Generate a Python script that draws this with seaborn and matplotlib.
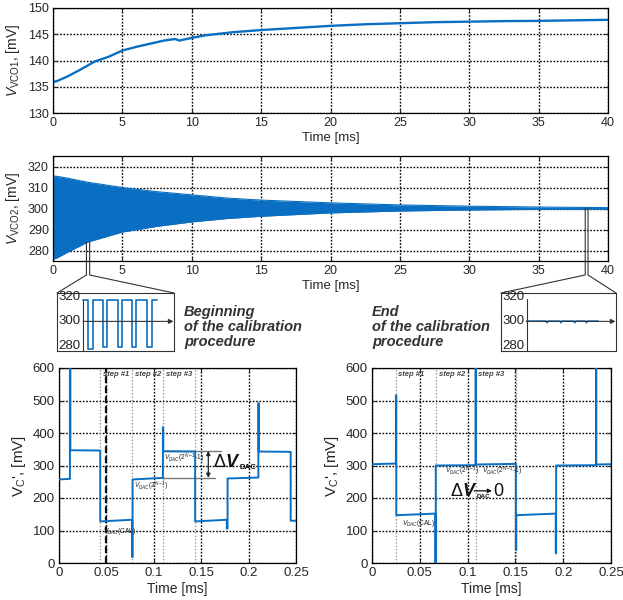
import numpy as np
import pandas as pd
import matplotlib
matplotlib.use("Agg")
import matplotlib.pyplot as plt
import seaborn as sns

# ------------------------------------------------------------------ data
vco1_t = [0, 0.3, 1, 2, 3, 4, 5, 6, 7, 8, 8.8, 9.1, 10, 11, 12, 13, 15, 17.5,
          20, 22.5, 25, 27.5, 30, 32.5, 35, 37.5, 40]
vco1_v = [135.9, 136.1, 136.9, 138.3, 139.8, 140.7, 141.9, 142.6, 143.2, 143.8,
          144.1, 143.8, 144.3, 144.8, 145.1, 145.4, 145.8, 146.2, 146.6, 146.9,
          147.1, 147.3, 147.4, 147.5, 147.55, 147.65, 147.75]

vco2_t = [0, 0.3, 1, 2.5, 5, 7.5, 10, 12.5, 15, 20, 25, 30, 35, 40]
vco2_upper = [315.5, 315.3, 314.5, 312.5, 310.0, 308.0, 306.5, 305.0, 304.0,
              302.7, 301.7, 301.1, 300.7, 300.4]
vco2_lower = [275.8, 276.5, 279.0, 284.0, 288.8, 291.5, 293.6, 295.2, 296.3,
              297.9, 298.8, 299.3, 299.6, 299.7]

# zoomed windows of the VCO2 trace (ms)
zoom_begin_t = [2.41, 2.64]
zoom_end_t = [38.36, 38.56]

beg_t = [0, 0.45, 1.0, 2.0, 2.4, 3.5, 3.9, 4.9, 5.3, 6.4, 6.9, 7.4]
beg_v = [317, 277.5, 317, 279.5, 317, 279.5, 317, 279.5, 317, 279.5, 317, 317]
end_t = [0, 2.0, 2.1, 2.2, 3.4, 3.5, 3.6, 4.8, 4.9, 5.0, 6.0, 6.1, 6.2, 7.3]
end_v = [300.2, 300.2, 298.9, 300.2, 300.2, 298.9, 300.2, 300.2, 298.9, 300.2,
         300.2, 298.9, 300.2, 300.2]
inset_ticks = [320, 300, 280]

begin_t = [0, 0.0115, 0.0115, 0.0120, 0.0120, 0.0435, 0.0435, 0.0772, 0.0772,
           0.0776, 0.0776, 0.1096, 0.1096, 0.1100, 0.1100, 0.1436, 0.1436,
           0.1770, 0.1770, 0.1778, 0.1778, 0.2103, 0.2103, 0.2107, 0.2107,
           0.2444, 0.2444, 0.25]
begin_v = [257, 259, 620, 620, 347, 346, 128, 133, 18, 18, 257, 262, 418, 418,
           344, 343, 128, 133, 106, 106, 260, 263, 492, 492, 343, 342, 130, 130]
begin_steps = [0.0435, 0.0772, 0.1096, 0.1436]

end2_t = [0, 0.0250, 0.0250, 0.0254, 0.0254, 0.0662, 0.0662, 0.0667, 0.0667,
          0.1083, 0.1083, 0.1087, 0.1087, 0.1505, 0.1505, 0.1509, 0.1509,
          0.1922, 0.1922, 0.1926, 0.1926, 0.2343, 0.2343, 0.2347, 0.2347, 0.25]
end2_v = [304, 306, 516, 516, 147, 152, 0, 0, 300, 301, 620, 620, 303, 305, 40,
          40, 147, 152, 30, 30, 300, 301, 620, 620, 303, 304]
end_steps = [0.0251, 0.0669, 0.1084, 0.1506]

step_labels = ["step #1", "step #2", "step #3"]
begin_step_x = [0.0465, 0.080, 0.113]
end_step_x = [0.0275, 0.0704, 0.111]

# ------------------------------------------------------------------ style
sns.set_style("ticks")
plt.rcParams['font.family'] = ['Liberation Sans', 'DejaVu Sans']
plt.rcParams['mathtext.fontset'] = 'custom'
plt.rcParams['mathtext.rm'] = 'Liberation Sans'
plt.rcParams['mathtext.it'] = 'Liberation Sans:italic'
plt.rcParams['mathtext.bf'] = 'Liberation Sans:bold'
plt.rcParams['mathtext.bfit'] = 'Liberation Sans:bold:italic'

BLUE = '#0a6fc2'
W, H = 623, 600


def rect(l, t, r, b):
    return [l / W, 1 - b / H, (r - l) / W, (b - t) / H]


fig = plt.figure(figsize=(6.23, 6.0), dpi=100)
ax1 = fig.add_axes(rect(53, 8, 608, 113))
ax2 = fig.add_axes(rect(53, 156, 608, 261))
ax3 = fig.add_axes(rect(59, 368, 296, 563))
ax4 = fig.add_axes(rect(372, 368, 611, 563))
axi1 = fig.add_axes(rect(57, 293, 174, 351))
axi2 = fig.add_axes(rect(501, 293, 616, 351))


def style_axes(ax, fs=9):
    ax.grid(True, color='#000', linestyle=(0, (1.2, 1.2)), linewidth=1.0)
    ax.set_axisbelow(True)
    ax.tick_params(direction='in', length=3, top=True, right=True,
                   labelsize=fs, pad=3)
    for s in ax.spines.values():
        s.set_color('k')
        s.set_linewidth(0.9)


# ---- top panel
sns.lineplot(x=vco1_t, y=vco1_v, ax=ax1, color=BLUE, linewidth=1.7)
ax1.set_xlim(0, 40)
ax1.set_ylim(130, 150)
ax1.set_xticks(range(0, 41, 5))
ax1.set_yticks(range(130, 151, 5))
ax1.set_xlabel("Time [ms]", fontsize=9.5, labelpad=2)
ax1.set_ylabel(r"$V_{\mathregular{VCO1}}$, [mV]", fontsize=10, labelpad=4)
style_axes(ax1)

# ---- second panel
ax2.fill_between(vco2_t, vco2_lower, vco2_upper, color=BLUE, linewidth=0)
sns.lineplot(x=vco2_t, y=vco2_upper, ax=ax2, color=BLUE, linewidth=0.8)
sns.lineplot(x=vco2_t, y=vco2_lower, ax=ax2, color=BLUE, linewidth=0.8)
ax2.set_xlim(0, 40)
ax2.set_ylim(275, 325)
ax2.set_xticks(range(0, 41, 5))
ax2.set_yticks(range(280, 321, 10))
ax2.set_xlabel("Time [ms]", fontsize=9.5, labelpad=2)
ax2.set_ylabel(r"$V_{\mathregular{VCO2}}$, [mV]", fontsize=10, labelpad=4)
style_axes(ax2)

# ---- bottom panels
for ax, tt, vv, steps, sx in [(ax3, begin_t, begin_v, begin_steps, begin_step_x),
                              (ax4, end2_t, end2_v, end_steps, end_step_x)]:
    for s in steps:
        ax.axvline(s, color='#888', linestyle=':', linewidth=0.9, zorder=1.5)
    sns.lineplot(x=tt, y=vv, ax=ax, color=BLUE, linewidth=1.4, sort=False,
                 estimator=None, zorder=3)
    ax.set_xlim(0, 0.25)
    ax.set_ylim(0, 600)
    ax.set_xticks([0, 0.05, 0.1, 0.15, 0.2, 0.25])
    ax.set_xticklabels(["0", "0.05", "0.1", "0.15", "0.2", "0.25"])
    ax.set_yticks(range(0, 601, 100))
    ax.set_xlabel("Time [ms]", fontsize=10, labelpad=2)
    ax.set_ylabel(r"$\mathregular{V_{C}}$', [mV]", fontsize=11, labelpad=3)
    style_axes(ax, fs=9.5)
    for lab, x in zip(step_labels, sx):
        ax.text(x, 580, lab, fontsize=5.5, fontweight='bold', style='italic',
                color='#444', ha='left', va='center')

ax3.axvline(0.05, color='#111', linestyle=(0, (3, 1.5)), linewidth=1.6, zorder=1.6)

small = dict(fontsize=4.8, ha='left', va='center', color='#222')
ax3.text(0.1108, 323, r"$V_{DAC}(2^{N-1}$-1)", **small)
ax3.text(0.079, 235, r"$V_{DAC}(2^{N-1})$", **small)
ax3.text(0.046, 98, r"$V_{DAC}$(CAL)", **small)
ax4.text(0.0311, 123, r"$V_{DAC}$(CAL)", **small)
ax4.text(0.0764, 281, r"$V_{DAC}(2^{N-1})$", **small)
ax4.text(0.1147, 281, r"$V_{DAC}(2^{N-1}$-1)", **small)

# delta V_DAC annotation (left)
ax3.plot([0.1097, 0.1706], [345.5, 345.5], color='#777', linewidth=1.0, zorder=2)
ax3.plot([0.1097, 0.1646], [261.5, 261.5], color='#777', linewidth=1.0, zorder=2)
ax3.annotate('', xy=(0.1575, 345), xytext=(0.1575, 262),
             arrowprops=dict(arrowstyle='<|-|>', color='#222', lw=0.9,
                             mutation_scale=6, shrinkA=0, shrinkB=0))
dv1 = ax3.text(0.1620, 310, r"$\Delta\mathbfit{V}$", fontsize=13,
               ha='left', va='center', color='#111')
ax3.annotate("DAC", xy=(1, 0.22), xycoords=dv1, xytext=(-0.3, 0),
             textcoords='offset points', fontsize=5.6, fontweight='bold',
             ha='left', va='center', color='#111')

# delta V_DAC -> 0 (right)
dv2 = ax4.text(0.0816, 219, r"$\Delta\mathbfit{V}$", fontsize=13,
               ha='left', va='center', color='#111', zorder=4)
ax4.annotate("DAC", xy=(1, 0.22), xycoords=dv2, xytext=(-0.3, 0),
             textcoords='offset points', fontsize=4.6, fontweight='bold',
             ha='left', va='center', color='#111', zorder=4)
ax4.annotate('', xy=(0.1255, 222), xytext=(0.1068, 222),
             arrowprops=dict(arrowstyle='-|>', color='#111', lw=0.9,
                             mutation_scale=6, shrinkA=0, shrinkB=0), zorder=5)
ax4.text(0.1268, 219, "0", fontsize=13, ha='left', va='center', color='#111')

# ---- insets
for axi, tt, vv, style in [(axi1, beg_t, beg_v, 'steps-post'),
                           (axi2, end_t, end_v, 'default')]:
    axi.set_xlim(-2.6, 9.1)
    axi.set_ylim(276, 323)
    axi.set_xticks([])
    axi.set_yticks([])
    for s in axi.spines.values():
        s.set_color('#333')
        s.set_linewidth(0.8)
    axi.plot([0, 0], [276, 318.5], color='#333', linewidth=0.8)
    axi.annotate('', xy=(9.05, 300), xytext=(0, 300),
                 arrowprops=dict(arrowstyle='-|>', color='#333', lw=0.8,
                                 mutation_scale=7, shrinkA=0, shrinkB=0))
    sns.lineplot(x=tt, y=vv, ax=axi, color=BLUE, linewidth=1.2, sort=False,
                 estimator=None, drawstyle=style)
    for v in inset_ticks:
        axi.text(-0.25, v, str(v), fontsize=9.5, ha='right', va='center',
                 color='#222')
    axi.set_xlabel("")
    axi.set_ylabel("")

# ---- connector lines (figure pixel space)
overlay = fig.add_axes([0, 0, 1, 1], zorder=10)
overlay.set_xlim(0, W)
overlay.set_ylim(0, H)
overlay.axis('off')
overlay.patch.set_alpha(0)


def to_px(ax, x, y):
    return ax.transData.transform((x, y))


knee = H - 275
box_top = H - 293
for (ta, tb), v0, (bl, br) in [(zoom_begin_t, 284, (57, 174)),
                               (zoom_end_t, 300, (501, 616))]:
    xa, ya = to_px(ax2, ta, v0)
    xb, yb = to_px(ax2, tb, v0)
    overlay.plot([xa, xa, bl], [ya, knee, box_top], color='#333', lw=0.8)
    overlay.plot([xb, xb, br], [yb, knee, box_top], color='#333', lw=0.8)

txt = dict(fontsize=10.5, fontweight='bold', style='italic', color='#333',
           ha='left', va='center', linespacing=1.12)
fig.text(184 / W, 1 - 327 / H, "Beginning\nof the calibration\nprocedure", **txt)
fig.text(372 / W, 1 - 327 / H, "End\nof the calibration\nprocedure", **txt)

fig.savefig("out.png", dpi=100)
